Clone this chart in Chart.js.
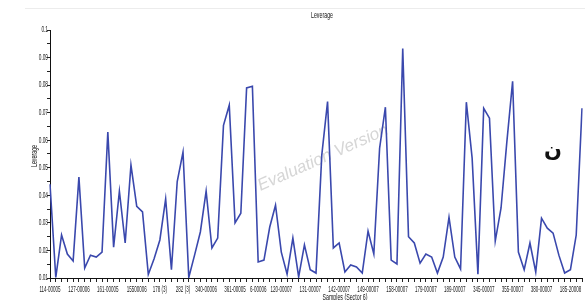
<!DOCTYPE html>
<html>
<head>
<meta charset="utf-8">
<script src="https://cdn.jsdelivr.net/npm/chart.js@4/dist/chart.umd.min.js"></script>
<style>
    html, body { margin: 0; padding: 0; background: #fff; }
    #wrap { width: 585px; height: 300px; position: relative; }
</style>
</head>
<body>
<div id="wrap"><canvas id="leverageChart"></canvas></div>
<script>
// Leverage per sample
const leverage = [
    0.044, 0.0102, 0.0256, 0.0187, 0.0162, 0.0466, 0.0136, 0.0183, 0.0176, 0.0194,
    0.063, 0.0212, 0.0415, 0.0227, 0.051, 0.036, 0.034, 0.0113, 0.017, 0.0238,
    0.0387, 0.013, 0.045, 0.0557, 0.0102, 0.0183, 0.0267, 0.0415, 0.0209, 0.0245,
    0.0654, 0.0727, 0.030, 0.0335, 0.079, 0.0796, 0.0158, 0.0165, 0.0285, 0.0364,
    0.0194, 0.0114, 0.0245, 0.0104, 0.022, 0.013, 0.0118, 0.0546, 0.074, 0.0209,
    0.0227, 0.0122, 0.0147, 0.014, 0.0118, 0.027, 0.0187, 0.0571, 0.072, 0.0165,
    0.0151, 0.0933, 0.025, 0.0227, 0.0154, 0.0187, 0.0176, 0.0118, 0.0176, 0.032,
    0.0176, 0.0133, 0.0738, 0.0535, 0.0114, 0.0716, 0.068, 0.0234, 0.0354, 0.0593,
    0.0814, 0.0194, 0.013, 0.0227, 0.0122, 0.0317, 0.0281, 0.0263, 0.0183, 0.0118,
    0.013, 0.0256, 0.0716
];

// Sample names that are printed under the axis, and the sample they belong to
const tickLabels = [
    '114-00005', '127-00006', '161-00005', '15500006', '178 (3)', '282 (3)',
    '340-00006', '361-00005', '6-00006', '120-00007', '131-00007', '142-00007',
    '149-00007', '158-00007', '179-00007', '189-00007', '345-00007', '355-00007',
    '380-00007', '185-20008'
];
const tickIndex = [0, 5, 10, 15, 19, 23, 27, 32, 36, 40, 45, 50, 55, 60, 65, 70, 75, 80, 85, 90];

const yMin = 0.01;
const yMax = 0.1;

const categories = leverage.map((v, i) => {
    const k = tickIndex.indexOf(i);
    return k >= 0 ? tickLabels[k] : '';
});

const labelFont = '8.5px "Liberation Sans", Arial, sans-serif';

// draw text squeezed horizontally around (x, y), the original uses a condensed face
function narrowText(c, text, x, y, align, squeeze) {
    c.save();
    c.translate(x, y);
    c.scale(squeeze, 1);
    c.textAlign = align;
    c.fillText(text, 0, 0);
    c.restore();
}

// Texts that Chart.js does not place where the original has them
const extraText = {
    id: 'extraText',
    beforeDatasetsDraw(chart) {
        const c = chart.ctx;
        c.save();
        // faint frame line at the top
        c.strokeStyle = '#ececec';
        c.lineWidth = 1;
        c.beginPath();
        c.moveTo(25, 8.5);
        c.lineTo(585, 8.5);
        c.stroke();

        // watermark
        c.translate(323, 158);
        c.rotate(-0.42);
        c.font = 'italic 17px "Liberation Sans", Arial, sans-serif';
        c.fillStyle = '#d6d6d6';
        c.textAlign = 'center';
        c.textBaseline = 'middle';
        c.fillText('Evaluation Version', 0, 0);
        c.restore();
    },
    afterDraw(chart) {
        const c = chart.ctx;
        const x = chart.scales.x;
        const y = chart.scales.y;
        c.save();
        c.fillStyle = '#222';
        c.font = labelFont;
        c.textBaseline = 'middle';

        // tick labels, positioned by the chart's own scales
        x.ticks.forEach((t, i) => {
            const lab = categories[t.value];
            if (lab) narrowText(c, lab, x.getPixelForTick(i), 290, 'center', 0.53);
        });
        y.ticks.forEach(t => {
            if (Math.round(t.value * 200) % 2 === 0) {
                narrowText(c, String(Number(t.value.toFixed(3))), y.left + 48, y.getPixelForValue(t.value), 'right', 0.56);
            }
        });

        c.fillStyle = '#111';
        narrowText(c, 'Leverage', 322, 16, 'center', 0.62);
        narrowText(c, 'Samples (Sector 6)', 345, 298, 'center', 0.62);

        c.save();
        c.translate(35, 156);
        c.rotate(-Math.PI / 2);
        narrowText(c, 'Leverage', 0, 0, 'center', 0.62);
        c.restore();

        c.font = 'bold 21px "DejaVu Sans", sans-serif';
        c.fillStyle = '#111';
        c.textAlign = 'center';
        c.fillText('ن', 553, 152);
        c.restore();
    }
};

const ctx = document.getElementById('leverageChart').getContext('2d');
new Chart(ctx, {
    type: 'line',
    data: {
        labels: categories,
        datasets: [{
            data: leverage,
            borderColor: '#3a48ad',
            borderWidth: 1.6,
            pointRadius: 0,
            tension: 0,
            fill: false
        }]
    },
    options: {
        responsive: true,
        maintainAspectRatio: false,
        animation: false,
        layout: { padding: { top: 30, right: 2, left: 0, bottom: 0 } },
        plugins: {
            legend: { display: false },
            tooltip: { enabled: false }
        },
        scales: {
            x: {
                offset: false,
                grid: { drawOnChartArea: false, drawTicks: true, tickLength: 4, color: '#222' },
                border: { color: '#111', width: 1 },
                ticks: {
                    autoSkip: false,
                    maxRotation: 0,
                    minRotation: 0,
                    color: 'rgba(0,0,0,0)',
                    font: { size: 7 },
                    callback: () => ''
                },
                afterFit: s => { s.height = 22; }
            },
            y: {
                min: yMin,
                max: yMax,
                grid: { drawOnChartArea: false, drawTicks: true, tickLength: 3, color: '#222' },
                border: { color: '#111', width: 1 },
                ticks: {
                    stepSize: 0.005,
                    color: 'rgba(0,0,0,0)',
                    font: { size: 7 },
                    callback: () => ''
                },
                afterFit: s => { s.width = 50; }
            }
        }
    },
    plugins: [extraText]
});
</script>
</body>
</html>
